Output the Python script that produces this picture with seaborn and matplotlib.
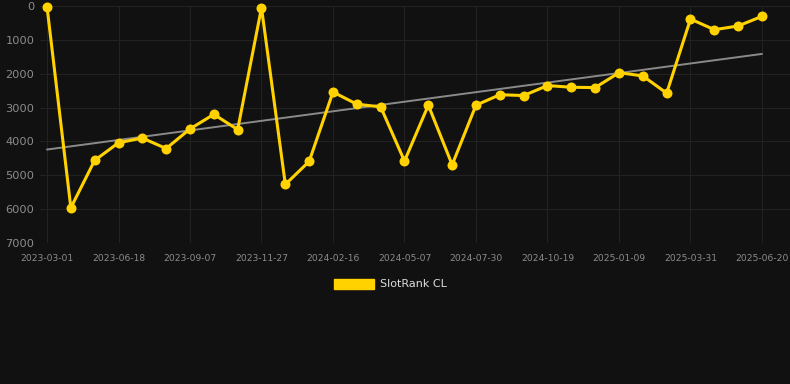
import numpy as np
import pandas as pd
import matplotlib
matplotlib.use("Agg")
import matplotlib.pyplot as plt
import seaborn as sns
from matplotlib.patches import Patch

# rank values (lower is better)
ranks = [20, 5960, 4560, 4040, 3900, 4210, 3630, 3200, 3650, 50,
         5270, 4590, 2540, 2900, 2980, 4580, 2930, 4690, 2930, 2620,
         2645, 2350, 2400, 2410, 1970, 2065, 2575, 385, 700, 590, 305]
tick_labels = ["2023-03-01", "2023-06-18", "2023-09-07", "2023-11-27",
               "2024-02-16", "2024-05-07", "2024-07-30", "2024-10-19",
               "2025-01-09", "2025-03-31", "2025-06-20"]
series_name = "SlotRank CL"

bg = "#111111"
gold = "#FFD200"

df = pd.DataFrame({"idx": np.arange(len(ranks)), "rank": ranks})

sns.set_style("dark")
plt.rcParams["font.family"] = ["DejaVu Sans"]

fig = plt.figure(figsize=(7.9, 3.84), dpi=100, facecolor=bg)
ax = fig.add_axes([40 / 790, 1 - 243 / 384, 750 / 790, 237 / 384])
ax.set_facecolor(bg)

# trend line (least squares fit)
k, b = np.polyfit(df["idx"], df["rank"], 1)
df["trend"] = k * df["idx"] + b
sns.lineplot(data=df, x="idx", y="trend", ax=ax, color="#8a8a8a", lw=1.4, zorder=2)

sns.lineplot(data=df, x="idx", y="rank", ax=ax, color=gold, lw=2.2,
             marker="o", markersize=7.2, markeredgewidth=0, zorder=3, clip_on=False)

ax.set_xlim(-7 / 23.83, 28 / 23.83 + 30)
ax.set_ylim(7000, 0)
ax.set_yticks(range(0, 7001, 1000))
ax.set_xticks(range(0, len(ranks), 3))
ax.set_xticklabels(tick_labels)
ax.set_xlabel("")
ax.set_ylabel("")
ax.grid(True, color="#222222", lw=0.8)
for s in ax.spines.values():
    s.set_visible(False)
ax.tick_params(axis="x", colors="#222222", labelcolor="#8c8c8c", labelsize=6.6,
               length=7, width=0.8, pad=1)
ax.tick_params(axis="y", colors="#222222", labelcolor="#8c8c8c", labelsize=8.2,
               length=0, pad=4)

fig.legend(handles=[Patch(facecolor=gold, edgecolor=gold)], labels=[series_name],
           loc="center", bbox_to_anchor=(0.494, 1 - 284 / 384), frameon=False,
           fontsize=8, labelcolor="#dddddd", handlelength=3.6, handleheight=1.0,
           handletextpad=0.5)

fig.savefig("out.png", dpi=100, facecolor=bg)
